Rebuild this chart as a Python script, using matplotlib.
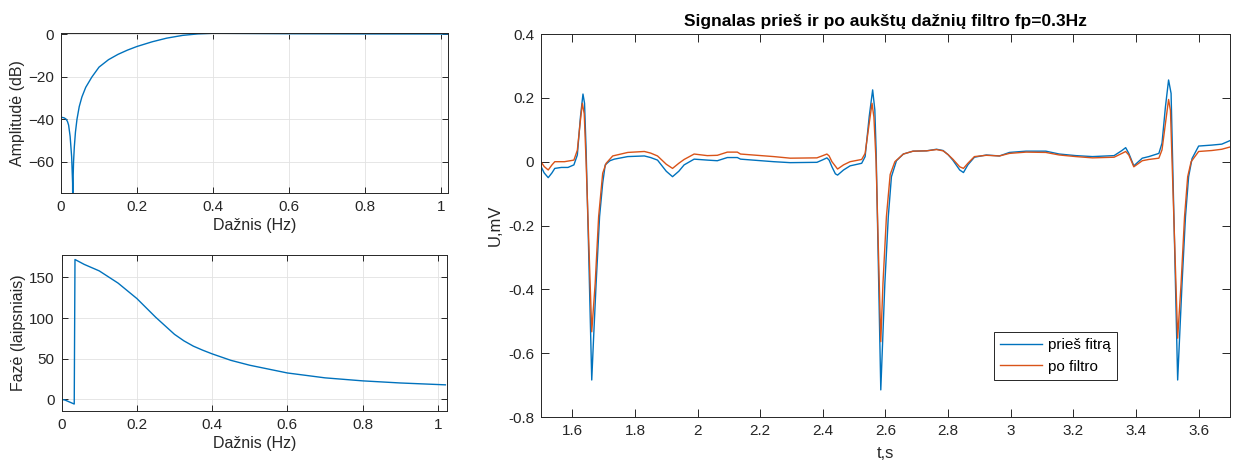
import matplotlib
matplotlib.use('Agg')
import matplotlib.pyplot as plt

plt.rcParams['font.family'] = ['Liberation Sans Narrow', 'Liberation Sans', 'DejaVu Sans']

# amplitudinė charakteristika (dB)
freq_amp = [0, 0.008, 0.0128, 0.017, 0.02, 0.024, 0.028, 0.0305, 0.031, 0.0315, 0.033,
            0.035, 0.038, 0.042, 0.048, 0.055, 0.065, 0.081, 0.1, 0.125, 0.15, 0.175,
            0.2, 0.24, 0.278, 0.32, 0.36, 0.4, 0.5, 0.6, 0.8, 1.02]
amp_db = [-39, -39.3, -39.8, -41, -42.7, -48, -57.6, -70, -85, -70, -60,
          -53, -46, -40, -34, -29.5, -25, -20.2, -15.5, -12, -9.5, -7.5,
          -5.8, -3.6, -1.9, -0.6, 0.1, 0.4, 0.3, 0.2, 0.1, 0.05]

# fazinė charakteristika (laipsniais)
freq_phase = [0, 0.009, 0.02, 0.0335, 0.0355, 0.06, 0.1, 0.15, 0.2, 0.25, 0.3,
              0.325, 0.35, 0.375, 0.4, 0.45, 0.5, 0.6, 0.7, 0.8, 0.9, 1.02]
phase_deg = [0, -0.8, -3, -5.7, 172, 166, 158, 143, 124, 101, 80,
             72, 65.5, 60.5, 56, 48, 42, 32.5, 26.5, 22.8, 20.2, 17.9]

# signalas prieš filtrą
t_before = [1.500, 1.510, 1.523, 1.535, 1.544, 1.565, 1.586, 1.605, 1.616, 1.626, 1.634,
            1.639, 1.644, 1.652, 1.662, 1.668, 1.676, 1.687, 1.697, 1.705, 1.720, 1.734,
            1.777, 1.830, 1.850, 1.872, 1.900, 1.920, 1.940, 1.957, 1.989, 2.031, 2.063,
            2.095, 2.127, 2.137, 2.190, 2.243, 2.296, 2.381, 2.400, 2.413, 2.420, 2.429,
            2.440, 2.447, 2.466, 2.487, 2.524, 2.535, 2.548, 2.559, 2.566, 2.570, 2.585,
            2.598, 2.609, 2.619, 2.635, 2.657, 2.688, 2.731, 2.763, 2.784, 2.800, 2.815,
            2.837, 2.849, 2.863, 2.884, 2.922, 2.964, 2.996, 3.049, 3.112, 3.155, 3.208,
            3.261, 3.330, 3.355, 3.367, 3.377, 3.393, 3.420, 3.441, 3.473, 3.483, 3.494,
            3.504, 3.512, 3.533, 3.547, 3.558, 3.568, 3.579, 3.600, 3.642, 3.674, 3.700]
u_before = [-0.015, -0.035, -0.050, -0.035, -0.021, -0.018, -0.018, -0.010, 0.021, 0.141, 0.212,
            0.183, 0.037, -0.277, -0.684, -0.550, -0.381, -0.172, -0.067, -0.010, 0.003, 0.008,
            0.016, 0.018, 0.013, 0.005, -0.030, -0.047, -0.030, -0.010, 0.008, 0.005, 0.003,
            0.013, 0.013, 0.008, 0.004, 0.000, -0.003, -0.002, 0.006, 0.012, 0.005, -0.016,
            -0.038, -0.042, -0.026, -0.013, -0.005, 0.016, 0.141, 0.225, 0.162, 0.037, -0.715,
            -0.381, -0.172, -0.047, 0.003, 0.024, 0.033, 0.034, 0.039, 0.035, 0.022, 0.005,
            -0.026, -0.034, -0.010, 0.014, 0.021, 0.018, 0.029, 0.033, 0.033, 0.024, 0.019,
            0.016, 0.019, 0.035, 0.044, 0.026, -0.013, 0.011, 0.016, 0.026, 0.058, 0.172,
            0.256, 0.214, -0.684, -0.381, -0.172, -0.047, 0.010, 0.049, 0.052, 0.055, 0.066]

# signalas po filtro
t_after = [1.500, 1.510, 1.523, 1.535, 1.544, 1.575, 1.605, 1.616, 1.626, 1.632, 1.638,
           1.644, 1.662, 1.673, 1.684, 1.697, 1.708, 1.729, 1.777, 1.830, 1.850, 1.872,
           1.900, 1.920, 1.940, 1.957, 1.989, 2.031, 2.063, 2.095, 2.127, 2.137, 2.190,
           2.243, 2.296, 2.381, 2.400, 2.413, 2.420, 2.429, 2.447, 2.466, 2.487, 2.524,
           2.535, 2.548, 2.557, 2.563, 2.570, 2.585, 2.592, 2.603, 2.615, 2.630, 2.657,
           2.688, 2.731, 2.763, 2.784, 2.800, 2.815, 2.837, 2.849, 2.863, 2.884, 2.922,
           2.964, 2.996, 3.049, 3.112, 3.155, 3.208, 3.261, 3.330, 3.355, 3.367, 3.377,
           3.393, 3.420, 3.441, 3.473, 3.483, 3.494, 3.504, 3.510, 3.533, 3.544, 3.555,
           3.565, 3.576, 3.600, 3.642, 3.674, 3.700]
u_after = [0.000, -0.015, -0.026, -0.010, 0.000, 0.000, 0.005, 0.036, 0.131, 0.183, 0.150,
           0.000, -0.533, -0.381, -0.172, -0.036, -0.005, 0.018, 0.029, 0.032, 0.027, 0.018,
           -0.008, -0.021, -0.005, 0.007, 0.024, 0.019, 0.020, 0.030, 0.030, 0.024, 0.020,
           0.016, 0.011, 0.012, 0.019, 0.024, 0.018, 0.000, -0.023, -0.010, 0.000, 0.007,
           0.026, 0.120, 0.183, 0.140, 0.000, -0.564, -0.381, -0.172, -0.040, 0.000, 0.024,
           0.033, 0.034, 0.038, 0.034, 0.022, 0.008, -0.016, -0.021, -0.005, 0.016, 0.020,
           0.018, 0.026, 0.030, 0.029, 0.021, 0.016, 0.012, 0.014, 0.026, 0.032, 0.021,
           -0.016, 0.003, 0.007, 0.011, 0.037, 0.120, 0.195, 0.160, -0.553, -0.381, -0.172,
           -0.047, 0.000, 0.032, 0.035, 0.039, 0.046]

blue = '#0072BD'
orange = '#D95319'
dark = '#262626'
fs = 11


def matlab_style(ax, grid=False, ticklen=4):
    for s in ax.spines.values():
        s.set_color(dark)
        s.set_linewidth(0.7)
    ax.tick_params(direction='in', top=True, right=True, length=ticklen, width=0.7,
                   colors=dark, labelsize=fs, pad=5)
    if grid:
        ax.grid(True, color='#e2e2e2', linewidth=0.6)
        ax.set_axisbelow(True)


fig = plt.figure(figsize=(12.4, 4.72), dpi=100)

ax1 = fig.add_axes([0.0492, 0.591, 0.312, 0.339])
ax1.plot(freq_amp, amp_db, color=blue, lw=1.0)
ax1.set_xlim(0, 1.018)
ax1.set_ylim(-74.6, 0.5)
ax1.set_xticks([0, 0.2, 0.4, 0.6, 0.8, 1])
ax1.set_xticklabels(['0', '0.2', '0.4', '0.6', '0.8', '1'])
ax1.set_yticks([-60, -40, -20, 0])
ax1.set_xlabel('Dažnis (Hz)', fontsize=fs + 0.5, color=dark, labelpad=3)
ax1.set_ylabel('Amplitudė (dB)', fontsize=fs + 0.5, color=dark, labelpad=2)
matlab_style(ax1, grid=True)

ax2 = fig.add_axes([0.0497, 0.129, 0.311, 0.3305])
ax2.plot(freq_phase, phase_deg, color=blue, lw=1.0)
ax2.set_xlim(0, 1.025)
ax2.set_ylim(-14.4, 177.4)
ax2.set_xticks([0, 0.2, 0.4, 0.6, 0.8, 1])
ax2.set_xticklabels(['0', '0.2', '0.4', '0.6', '0.8', '1'])
ax2.set_yticks([0, 50, 100, 150])
ax2.set_xlabel('Dažnis (Hz)', fontsize=fs + 0.5, color=dark, labelpad=3)
ax2.set_ylabel('Fazė (laipsniais)', fontsize=fs + 0.5, color=dark, labelpad=2)
matlab_style(ax2, grid=True)

ax3 = fig.add_axes([0.4363, 0.1165, 0.5556, 0.8114])
ax3.plot(t_before, u_before, color=blue, lw=1.0, label='prieš fitrą')
ax3.plot(t_after, u_after, color=orange, lw=1.0, label='po filtro')
ax3.set_xlim(1.5, 3.7)
ax3.set_ylim(-0.8, 0.4)
ax3.set_xticks([1.6, 1.8, 2, 2.2, 2.4, 2.6, 2.8, 3, 3.2, 3.4, 3.6])
ax3.set_xticklabels(['1.6', '1.8', '2', '2.2', '2.4', '2.6', '2.8', '3', '3.2', '3.4', '3.6'])
ax3.set_yticks([-0.8, -0.6, -0.4, -0.2, 0, 0.2, 0.4])
ax3.set_yticklabels(['-0.8', '-0.6', '-0.4', '-0.2', '0', '0.2', '0.4'])
ax3.set_xlabel('t,s', fontsize=fs + 1, color=dark, labelpad=6)
ax3.set_ylabel('U,mV', fontsize=fs + 1, color=dark, labelpad=4)
ax3.set_title('Signalas prieš ir po aukštų dažnių filtro fp=0.3Hz', fontsize=12.5,
              fontweight='bold', color='black', pad=6)
matlab_style(ax3, ticklen=6)
leg = ax3.legend(loc='lower left', bbox_to_anchor=(0.658, 0.097), fontsize=fs,
                 fancybox=False, framealpha=1, edgecolor=dark, handlelength=2.7,
                 borderaxespad=0, borderpad=0.4, labelspacing=0.5, handletextpad=0.4)
leg.get_frame().set_linewidth(0.7)

fig.savefig('out.png', dpi=100)
